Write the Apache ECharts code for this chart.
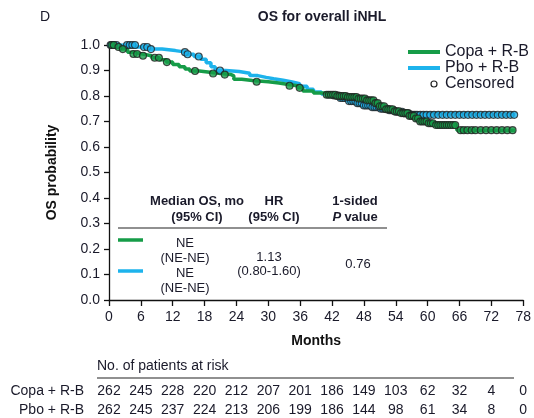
<!DOCTYPE html>
<html>
<head>
<meta charset="utf-8">
<script src="https://cdn.jsdelivr.net/npm/echarts@6/dist/echarts.min.js"></script>
<style>
html,body{margin:0;padding:0;background:#fff;}
#c{width:534px;height:418px;}
</style>
</head>
<body>
<div id="c"></div>
<script>
// ---- Data ----
var xTicks = [0,6,12,18,24,30,36,42,48,54,60,66,72,78];
var copaTimes = [0,1.5,2.2,3.5,4.5,6.3,8,9.5,10.8,12,13.2,14.3,15.2,17,19,21,23,23.5,25,27,30,32,33.5,35.5,36.5,38.5,40.7,43,45,47,48.5,50,51,52,53.5,55,56.5,57.5,58.5,60,61.5,65.5,76.5];
var copaSurv  = [1.0,0.992,0.984,0.972,0.965,0.958,0.95,0.942,0.933,0.924,0.915,0.906,0.898,0.893,0.888,0.884,0.879,0.866,0.861,0.856,0.851,0.846,0.84,0.832,0.82,0.812,0.805,0.8,0.796,0.79,0.783,0.772,0.76,0.748,0.74,0.733,0.722,0.712,0.7,0.693,0.686,0.666,0.666];
var pboTimes = [0,5,7.5,10,12.5,14.5,16,17.3,18.3,19.2,20,22,24.5,26.5,28,29.6,31,32.8,34.5,35.9,37.3,38.5,40,42,43.5,45,46.5,48,49.5,51,52.5,54,55.5,56.5,76.5];
var pboSurv  = [1.0,0.992,0.984,0.978,0.972,0.964,0.955,0.944,0.93,0.915,0.9,0.896,0.889,0.88,0.873,0.868,0.862,0.855,0.848,0.838,0.826,0.816,0.808,0.802,0.792,0.78,0.772,0.763,0.756,0.75,0.744,0.738,0.732,0.726,0.726];
var copaCensor = [0.5,0.9,1.8,2.6,4.6,5.3,6.4,8.6,9.4,10.9,16.2,19.6,21.8,27.8,34,35.9,41,41.4,41.8,42.2,42.6,43,43.4,43.8,44.2,44.6,45,45.4,45.8,46.2,46.6,47,47.4,47.8,48.2,48.6,49,49.4,49.8,50.2,50.6,51,51.4,51.8,52.2,52.6,53,53.4,53.8,54.2,54.6,55,55.4,55.8,56.2,56.6,57,57.4,57.8,58.2,58.6,59,59.4,59.8,60.2,60.6,61,61.6,62,62.4,62.8,63.2,63.6,64,64.4,64.8,65.2,66.2,66.8,67.5,68.3,69,70,71,72,73,74,75,76];
var pboCensor = [0.3,0.8,1.4,3.4,3.9,4.4,4.9,6.6,7.2,7.9,14.3,14.8,16.9,20.9,42.4,42.8,43.2,43.6,44,44.4,44.8,45.2,45.6,46,46.4,46.8,47.2,47.6,48,48.4,48.8,49.2,49.6,50,50.4,50.8,51.2,51.6,52,52.4,52.8,53.2,53.6,54,54.4,54.8,55.2,55.6,56,56.4,56.8,57.2,57.6,58,58.6,59.2,59.8,60.5,61.2,62,62.8,63.6,64.4,65.2,66,66.8,67.6,68.4,69.2,70,70.8,71.6,72.4,73.2,74,74.8,75.6,76.3];
var copaRisk = [262,245,228,220,212,207,201,186,149,103,62,32,4,0];
var pboRisk  = [262,245,237,224,213,206,199,186,144,98,61,34,8,0];
var seriesNames = ['Copa + R-B','Pbo + R-B'];
var GREEN = '#169c48', BLUE = '#1db3ec';
var FONT = 'Liberation Sans, Arial, sans-serif';

function stepAt(times, surv, t){
  var s = surv[0];
  for (var i=0;i<times.length;i++){ if (times[i] <= t) s = surv[i]; }
  return s;
}
function pairs(times, surv){ return times.map(function(t,i){return [t,surv[i]];}); }
function censorPts(ct, times, surv){ return ct.map(function(t){return [t, stepAt(times,surv,t)];}); }

var chart = echarts.init(document.getElementById('c'), null, {renderer:'canvas'});
var option = {
  animation:false,
  backgroundColor:'#fff',
  grid:{left:109, right:10, top:45, bottom:118},
  xAxis:{
    type:'value', min:0, max:78, interval:6,
    name:'Months', nameLocation:'middle', nameGap:34,
    nameTextStyle:{fontFamily:FONT, fontSize:14, fontWeight:'bold', color:'#111'},
    axisLine:{lineStyle:{color:'#111', width:1.3}},
    axisTick:{length:6, lineStyle:{color:'#111', width:1.3}},
    axisLabel:{fontFamily:FONT, fontSize:14, color:'#1a1a2a', margin:10},
    splitLine:{show:false}
  },
  yAxis:{
    type:'value', min:0, max:1, interval:0.1,
    name:'OS probability', nameLocation:'middle', nameGap:50,
    nameTextStyle:{fontFamily:FONT, fontSize:14, fontWeight:'bold', color:'#111'},
    axisLine:{show:true, lineStyle:{color:'#111', width:1.3}},
    axisTick:{show:true, length:5, lineStyle:{color:'#111', width:1.3}},
    axisLabel:{fontFamily:FONT, fontSize:14, color:'#1a1a2a', margin:9, formatter:function(v){return v.toFixed(1);}},
    splitLine:{show:false}
  },
  series:[
    {name:seriesNames[1], type:'line', step:'end', data:pairs(pboTimes,pboSurv), showSymbol:false, lineStyle:{color:BLUE, width:3.5}, z:2},
    {name:seriesNames[0], type:'line', step:'end', data:pairs(copaTimes,copaSurv), showSymbol:false, lineStyle:{color:GREEN, width:3.5}, z:3},
    {name:'pboC', type:'scatter', data:censorPts(pboCensor,pboTimes,pboSurv), symbol:'circle', symbolSize:7, itemStyle:{color:BLUE, borderColor:'#222', borderWidth:1.1}, z:4},
    {name:'copaC', type:'scatter', data:censorPts(copaCensor,copaTimes,copaSurv), symbol:'circle', symbolSize:7, itemStyle:{color:GREEN, borderColor:'#222', borderWidth:1.1}, z:5}
  ]
};
chart.setOption(option);

var g = [];
function txt(x,y,s,opt){
  opt = opt||{};
  g.push({type:'text', x:x, y:y, z:10, style:{text:s, fontFamily:FONT, fontSize:opt.size||14, fontWeight:opt.bold?'bold':'normal', fontStyle:opt.italic?'italic':'normal', fill:opt.color||'#1a1a2a', align:opt.align||'left', verticalAlign:'middle'}});
}
function line(x1,y1,x2,y2,color,w){
  g.push({type:'line', z:10, shape:{x1:x1,y1:y1,x2:x2,y2:y2}, style:{stroke:color, lineWidth:w}});
}
// Title & panel letter
txt(40,17,'D',{size:14});
txt(322,17,'OS for overall iNHL',{size:14,bold:true,align:'center'});
// Legend
line(408,52,440,52,GREEN,4);
txt(445,52,seriesNames[0],{size:16});
line(408,68,440,68,BLUE,4);
txt(445,68,seriesNames[1],{size:16});
g.push({type:'circle', z:10, shape:{cx:434,cy:84,r:3}, style:{fill:'#fff', stroke:'#222', lineWidth:1.2}});
txt(445,84,'Censored',{size:16});
// Inset table
txt(197,201,'Median OS, mo',{size:13,bold:true,align:'center'});
txt(197,217,'(95% CI)',{size:13,bold:true,align:'center'});
txt(274,201,'HR',{size:13,bold:true,align:'center'});
txt(274,217,'(95% CI)',{size:13,bold:true,align:'center'});
txt(355,201,'1-sided',{size:13,bold:true,align:'center'});
g.push({type:'text', x:355, y:217, z:10, style:{rich:{i:{fontFamily:FONT,fontSize:13,fontWeight:'bold',fontStyle:'italic',fill:'#1a1a2a'},n:{fontFamily:FONT,fontSize:13,fontWeight:'bold',fill:'#1a1a2a'}}, text:'{i|P} {n|value}', align:'center', verticalAlign:'middle'}});
line(118,228,387,228,'#222',1.2);
line(118,240,143,240,GREEN,3.5);
line(118,271,143,271,BLUE,3.5);
txt(185,243,'NE',{size:13,align:'center'});
txt(185,258,'(NE-NE)',{size:13,align:'center'});
txt(185,273,'NE',{size:13,align:'center'});
txt(185,288,'(NE-NE)',{size:13,align:'center'});
txt(269,257,'1.13',{size:13,align:'center'});
txt(269,271,'(0.80-1.60)',{size:13,align:'center'});
txt(358,264,'0.76',{size:13,align:'center'});
// Risk table
txt(97,366,'No. of patients at risk',{size:14});
line(97,378,514,378,'#222',1.2);
txt(84,391,seriesNames[0],{size:14,align:'right'});
txt(84,410,seriesNames[1],{size:14,align:'right'});
xTicks.forEach(function(t,i){
  var px = chart.convertToPixel({xAxisIndex:0}, t);
  txt(px,391,String(copaRisk[i]),{size:14,align:'center'});
  txt(px,410,String(pboRisk[i]),{size:14,align:'center'});
});
chart.setOption({graphic:g});
</script>
</body>
</html>
